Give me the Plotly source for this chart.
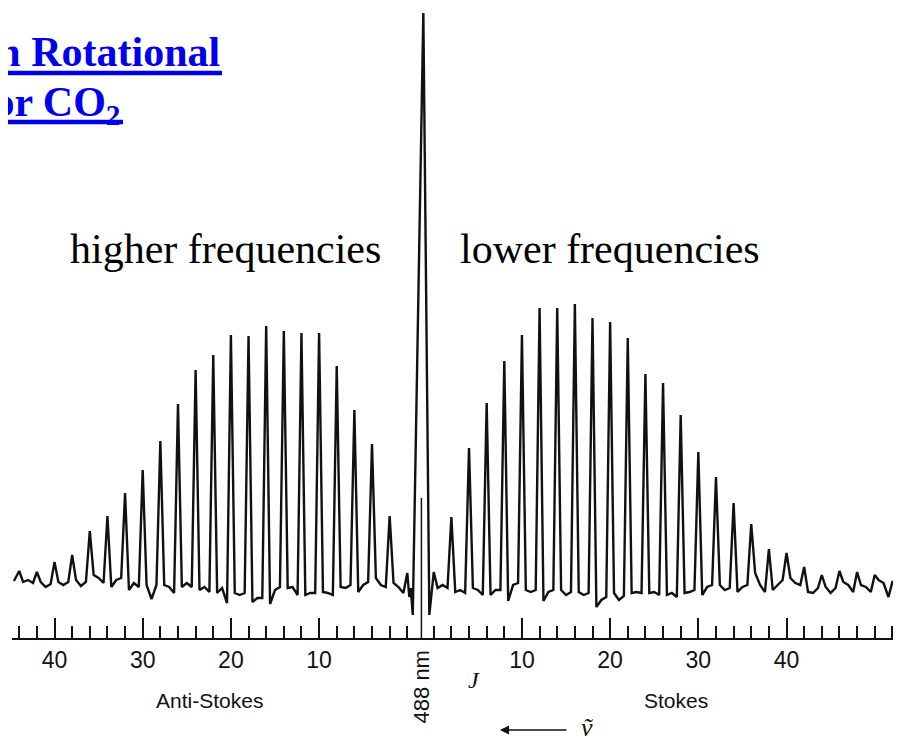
import plotly.graph_objects as go

# Raman rotational spectrum of CO2 (only even J lines)
# line J sits at +/-(J + 1.5) in units of 4B from the 488 nm exciting line

anti_J = [44, 42, 40, 38, 36, 34, 32, 30, 28, 26, 24, 22, 20, 18, 16, 14, 12, 10, 8, 6, 4, 2, 0]
anti_peak = [67, 66, 76, 83, 107, 122, 145, 168, 197, 234, 268, 283, 303, 302, 312, 307, 305, 305,
             272, 228, 194, 122, 65]
# baseline between neighbouring lines (left foot, middle, right foot)
anti_valley = [(56, 58, 55), (56, 51, 54), (56, 53, 56), (58, 52, 56), (63, 60, 55), (51, 58, 60),
               (48, 55, 51), (53, 39, 53), (53, 51, 45), (51, 55, 51), (48, 51, 46), (45, 50, 35),
               (45, 43, 45), (36, 40, 40), (34, 48, 51), (50, 51, 43), (43, 45, 45), (46, 45, 43),
               (51, 50, 53), (46, 53, 56), (60, 53, 51), (55, 51, 45)]

stokes_J = [0, 2, 4, 6, 8, 10, 12, 14, 16, 18, 20, 22, 24, 26, 28, 30, 32, 34, 36, 38, 40, 42, 44,
            46, 48, 50, 52]
stokes_peak = [66, 121, 190, 235, 277, 303, 330, 330, 334, 320, 316, 300, 264, 255, 223, 186, 161,
               135, 114, 89, 85, 71, 63, 67, 66, 63, 56]
stokes_valley = [(50, 53, 50), (46, 48, 45), (50, 48, 43), (43, 48, 48), (37, 53, 55), (48, 46, 48),
                 (37, 46, 48), (48, 43, 46), (46, 43, 45), (31, 38, 41), (45, 38, 42), (45, 46, 45),
                 (45, 46, 43), (43, 45, 41), (45, 46, 48), (43, 51, 53), (53, 48, 50), (46, 51, 53),
                 (65, 53, 46), (48, 53, 58), (60, 55, 53), (46, 45, 50), (51, 45, 50), (56, 53, 46),
                 (53, 51, 46), (58, 55, 41)]

# Rayleigh line at 488 nm
center_x = [-1.27, -1.11, -0.88, 0.32, 1.0]
center_y = [41, 50, 23, 625, 23]
start_x, start_y = -46.1, 57
end_x, end_y = 54.37, 55
marker_top = 140

major_J = [10, 20, 30, 40]
anti_ticks = list(range(0, 46, 2))
stokes_ticks = list(range(0, 54, 2))


def side(js, peaks, valleys, sign):
    xs, ys = [], []
    for k in range(len(js)):
        p = sign * (js[k] + 1.5)
        xs.append(p)
        ys.append(peaks[k])
        if k < len(valleys):
            q = sign * (js[k + 1] + 1.5)
            for f, v in zip((0.22, 0.5, 0.78), valleys[k]):
                xs.append(p + f * (q - p))
                ys.append(v)
    return xs, ys


ax, ay = side(anti_J, anti_peak, anti_valley, -1)
sx, sy = side(stokes_J, stokes_peak, stokes_valley, 1)
x = [start_x] + ax + center_x + sx + [end_x]
y = [start_y] + ay + center_y + sy + [end_y]

spec = go.Scatter(x=x, y=y, mode='lines', line=dict(color='#111111', width=2.4), hoverinfo='skip')

tickvals = [-(j + 1.5) for j in major_J] + [j + 1.5 for j in major_J]
ticktext = [str(j) for j in major_J] * 2
minor_vals = [-(j + 1.5) for j in anti_ticks] + [j + 1.5 for j in stokes_ticks]

sans = 'Liberation Sans'
serif = 'Liberation Serif'
blue = '#0000EE'
ink = '#111111'


def note(text, x, y, font, **kw):
    d = dict(text=text, xref='paper', yref='paper', x=x, y=y, xanchor='center',
             yanchor='middle', showarrow=False, font=font)
    d.update(kw)
    return d


layout = go.Layout(
    width=893, height=730,
    margin=dict(l=4, r=0, t=0, b=100),
    plot_bgcolor='white', paper_bgcolor='white', showlegend=False,
    xaxis=dict(range=[-46.32, 54.48], showgrid=False, zeroline=False,
               showline=True, linecolor=ink, linewidth=2,
               ticks='inside', ticklen=20, tickwidth=1.5, tickcolor=ink,
               tickmode='array', tickvals=tickvals, ticktext=ticktext,
               tickfont=dict(family=sans, size=23, color=ink), ticklabelstandoff=0,
               minor=dict(tickmode='array', tickvals=minor_vals, ticks='inside', ticklen=12,
                          tickwidth=1.5, tickcolor=ink, showgrid=False)),
    yaxis=dict(range=[0, 630], visible=False),
    shapes=[
        dict(type='line', xref='x', yref='y', x0=0.1, x1=0.1, y0=0, y1=marker_top,
             line=dict(color=ink, width=1.5)),
        # link-style underlines of the slide title
        dict(type='line', xref='paper', yref='paper', x0=-0.02, x1=0.2362, y0=0.8968, y1=0.8968,
             line=dict(color=blue, width=4.5)),
        dict(type='line', xref='paper', yref='paper', x0=-0.02, x1=0.1249, y0=0.819, y1=0.819,
             line=dict(color=blue, width=4.5)),
    ],
    annotations=[
        note('<b>Raman Rotational</b>', 0.2362, 0.9297,
             dict(family=serif, size=42, color=blue), xanchor='right'),
        note('<b>Spectrum for CO<sub>2</sub></b>', 0.1249, 0.8459,
             dict(family=serif, size=42, color=blue), xanchor='right'),
        note('higher frequencies', 0.2396, 0.6174, dict(family=serif, size=42, color='black')),
        note('lower frequencies', 0.6727, 0.6174, dict(family=serif, size=42, color='black')),
        note('Anti-Stokes', 0.2216, -0.0985, dict(family=sans, size=21, color=ink)),
        note('Stokes', 0.7469, -0.0985, dict(family=sans, size=21, color=ink)),
        note('488 nm', 0.4609, -0.0773, dict(family=sans, size=22, color=ink), textangle=-90),
        note('<i>J</i>', 0.5197, -0.0666, dict(family=serif, size=24, color=ink)),
        dict(text='', xref='paper', yref='paper', x=0.5489, y=-0.146, ax=68, ay=0,
             showarrow=True, arrowhead=2, arrowsize=1.2, arrowwidth=1.5, arrowcolor=ink),
        note('<i>\u1e7d</i>', 0.6479, -0.1413, dict(family=serif + ', DejaVu Serif', size=26, color=ink)),
    ],
)

fig = go.Figure([spec], layout=layout)
fig.write_html("out.html")
